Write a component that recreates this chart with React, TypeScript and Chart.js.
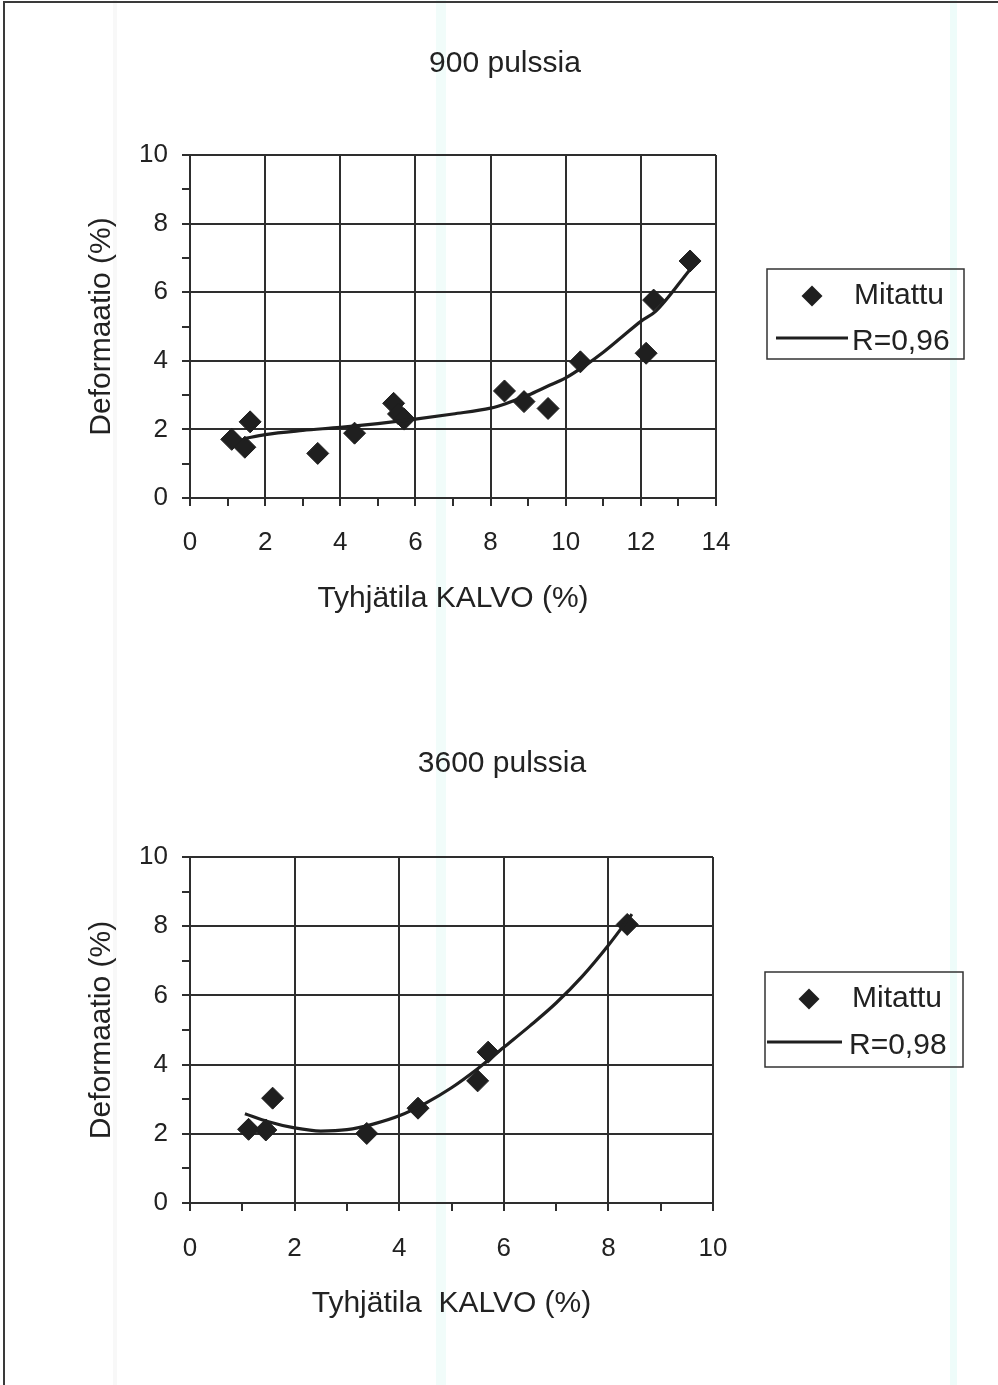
import React, { useEffect, useRef } from 'react';
import { Chart, registerables } from 'chart.js';

Chart.register(...registerables);

const FONT = "'Liberation Sans', Arial, Helvetica, sans-serif";
const INK = '#1f1f1f';
const GRID = '#2e2e2e';

// ---- Chart 1: 900 pulssia ----
const c1Title = '900 pulssia';
const c1XTitle = 'Tyhjätila KALVO (%)';
const c1YTitle = 'Deformaatio (%)';
const c1XMax = 14;
const c1MeasuredX = [1.11, 1.46, 1.6, 3.4, 4.38, 5.42, 5.55, 5.7, 8.37, 8.89, 9.53, 10.39, 12.14, 12.34, 13.31];
const c1MeasuredY = [1.71, 1.48, 2.22, 1.3, 1.89, 2.76, 2.45, 2.3, 3.12, 2.81, 2.61, 3.97, 4.22, 5.77, 6.91];
const c1TrendX = [1.44, 2, 3, 4, 5, 6, 7, 8, 8.4, 9, 9.5, 10, 10.5, 11, 11.5, 12, 12.4, 13.3];
const c1TrendY = [1.73, 1.85, 1.97, 2.06, 2.17, 2.3, 2.45, 2.62, 2.75, 3.0, 3.25, 3.5, 3.85, 4.25, 4.7, 5.15, 5.45, 6.65];
const c1Legend = ['Mitattu', 'R=0,96'];

// ---- Chart 2: 3600 pulssia ----
const c2Title = '3600 pulssia';
const c2XTitle = 'Tyhjätila  KALVO (%)';
const c2YTitle = 'Deformaatio (%)';
const c2XMax = 10;
const c2MeasuredX = [1.12, 1.45, 1.58, 3.38, 4.36, 5.5, 5.7, 8.36];
const c2MeasuredY = [2.13, 2.11, 3.03, 2.01, 2.74, 3.53, 4.36, 8.05];
const c2TrendX = [1.05, 1.5, 2.0, 2.5, 3.0, 3.5, 4.0, 4.5, 5.0, 5.5, 6.0, 6.5, 7.0, 7.5, 8.0, 8.45];
const c2TrendY = [2.58, 2.35, 2.17, 2.08, 2.12, 2.28, 2.52, 2.88, 3.33, 3.88, 4.5, 5.12, 5.78, 6.55, 7.45, 8.35];
const c2Legend = ['Mitattu', 'R=0,98'];

const yMax = 10;

const boxLegendPlugin = {
  id: 'boxLegend',
  afterDraw(chart: any, _args: any, opts: any) {
    if (!opts || !opts.labels) return;
    const ctx = chart.ctx;
    ctx.save();
    ctx.strokeStyle = '#333';
    ctx.lineWidth = 1.5;
    ctx.strokeRect(opts.left, opts.top, opts.width, opts.height);
    // diamond marker
    const dx = opts.markerX;
    const dy = opts.row1;
    const r = 10.5;
    ctx.fillStyle = INK;
    ctx.beginPath();
    ctx.moveTo(dx - r, dy);
    ctx.lineTo(dx, dy - r);
    ctx.lineTo(dx + r, dy);
    ctx.lineTo(dx, dy + r);
    ctx.closePath();
    ctx.fill();
    // line sample
    ctx.strokeStyle = INK;
    ctx.lineWidth = 3;
    ctx.beginPath();
    ctx.moveTo(opts.lineX0, opts.row2 - 4);
    ctx.lineTo(opts.lineX1, opts.row2 - 4);
    ctx.stroke();
    // texts
    ctx.fillStyle = '#222';
    ctx.font = `30px ${FONT}`;
    ctx.textBaseline = 'middle';
    ctx.textAlign = 'left';
    ctx.fillText(opts.labels[0], opts.textX, opts.row1);
    ctx.fillText(opts.labels[1], opts.textX2, opts.row2);
    ctx.restore();
  },
};

type Spec = {
  height: number;
  areaTop: number;
  areaBottom: number;
  areaRight: number;
  xAxisH: number;
  xTickPad: number;
  xMax: number;
  mx: number[];
  my: number[];
  tx: number[];
  ty: number[];
  xTitle: string;
  yTitle: string;
  legend: any;
};

function makeConfig(s: Spec): any {
  const tickFont = { family: FONT, size: 26 };
  const titleFont = { family: FONT, size: 30 };
  return {
    type: 'scatter',
    data: {
      datasets: [
        {
          label: s.legend.labels[0],
          data: s.mx.map((x, i) => ({ x, y: s.my[i] })),
          pointStyle: 'rectRot',
          pointRadius: 11,
          pointHoverRadius: 11,
          backgroundColor: INK,
          borderColor: INK,
          borderWidth: 1,
          showLine: false,
          order: 2,
        },
        {
          label: s.legend.labels[1],
          data: s.tx.map((x, i) => ({ x, y: s.ty[i] })),
          showLine: true,
          pointRadius: 0,
          pointHoverRadius: 0,
          borderColor: INK,
          borderWidth: 3.2,
          fill: false,
          cubicInterpolationMode: 'monotone',
          order: 1,
        },
      ],
    },
    options: {
      animation: false,
      responsive: false,
      maintainAspectRatio: false,
      events: [],
      layout: {
        padding: {
          left: 0,
          top: s.areaTop,
          right: 998 - s.areaRight,
          bottom: s.height - s.areaBottom - s.xAxisH,
        },
      },
      plugins: {
        legend: { display: false },
        tooltip: { enabled: false },
        title: { display: false },
        boxLegend: s.legend,
      },
      scales: {
        x: {
          type: 'linear',
          min: 0,
          max: s.xMax,
          ticks: {
            stepSize: 1,
            autoSkip: false,
            maxRotation: 0,
            padding: s.xTickPad,
            color: '#222',
            font: tickFont,
            callback: (v: number) => (Math.round(v) % 2 === 0 ? String(Math.round(v)) : ''),
          },
          grid: {
            color: (c: any) => (c.tick && Math.round(c.tick.value) % 2 === 0 ? GRID : 'rgba(0,0,0,0)'),
            tickColor: GRID,
            tickLength: 8,
            lineWidth: 2,
            drawTicks: true,
          },
          border: { color: GRID, width: 2 },
          title: {
            display: true,
            text: s.xTitle,
            color: '#222',
            font: titleFont,
            padding: { top: 0, bottom: 0 },
          },
          afterFit: (scale: any) => {
            scale.height = s.xAxisH;
          },
        },
        y: {
          type: 'linear',
          min: 0,
          max: yMax,
          ticks: {
            stepSize: 1,
            autoSkip: false,
            padding: 14,
            color: '#222',
            font: tickFont,
            callback: (v: number) => (Math.round(v) % 2 === 0 ? String(Math.round(v)) : ''),
          },
          grid: {
            color: (c: any) => (c.tick && Math.round(c.tick.value) % 2 === 0 ? GRID : 'rgba(0,0,0,0)'),
            tickColor: GRID,
            tickLength: 8,
            lineWidth: 2,
            drawTicks: true,
          },
          border: { color: GRID, width: 2 },
          title: {
            display: true,
            text: s.yTitle,
            color: '#222',
            font: titleFont,
            padding: { top: 84, bottom: 0 },
          },
          afterFit: (scale: any) => {
            scale.width = 190;
          },
        },
      },
    },
    plugins: [boxLegendPlugin],
  };
}

function Plot({ top, spec }: { top: number; spec: Spec }) {
  const ref = useRef<HTMLCanvasElement>(null);
  useEffect(() => {
    const chart = new Chart(ref.current as HTMLCanvasElement, makeConfig(spec));
    return () => chart.destroy();
  }, []);
  return (
    <canvas
      ref={ref}
      width={998}
      height={spec.height}
      style={{ position: 'absolute', left: 0, top, width: 998, height: spec.height }}
    />
  );
}

const spec1: Spec = {
  height: 700,
  areaTop: 155,
  areaBottom: 498,
  areaRight: 716,
  xAxisH: 119,
  xTickPad: 21,
  xMax: c1XMax,
  mx: c1MeasuredX,
  my: c1MeasuredY,
  tx: c1TrendX,
  ty: c1TrendY,
  xTitle: c1XTitle,
  yTitle: c1YTitle,
  legend: {
    labels: c1Legend,
    left: 767,
    top: 269,
    width: 197,
    height: 90,
    markerX: 812,
    row1: 296,
    row2: 342,
    lineX0: 776,
    lineX1: 848,
    textX: 854,
    textX2: 852,
  },
};

const spec2: Spec = {
  height: 685,
  areaTop: 157,
  areaBottom: 503,
  areaRight: 713,
  xAxisH: 119,
  xTickPad: 22,
  xMax: c2XMax,
  mx: c2MeasuredX,
  my: c2MeasuredY,
  tx: c2TrendX,
  ty: c2TrendY,
  xTitle: c2XTitle,
  yTitle: c2YTitle,
  legend: {
    labels: c2Legend,
    left: 765,
    top: 272,
    width: 198,
    height: 95,
    markerX: 809,
    row1: 299,
    row2: 346,
    lineX0: 767,
    lineX1: 842,
    textX: 852,
    textX2: 849,
  },
};

const titleStyle = (cx: number, cy: number): React.CSSProperties => ({
  position: 'absolute',
  left: cx - 200,
  top: cy - 18,
  width: 400,
  height: 36,
  lineHeight: '36px',
  textAlign: 'center',
  fontFamily: FONT,
  fontSize: 30,
  color: '#222',
  whiteSpace: 'pre',
});

export default function App() {
  return (
    <div
      style={{
        position: 'absolute',
        left: 0,
        top: 0,
        width: 998,
        height: 1385,
        background: '#fff',
        overflow: 'hidden',
      }}
    >
      {/* faint scan streaks */}
      <div style={{ position: 'absolute', left: 436, top: 0, width: 10, height: 1385, background: '#f1fcfa' }} />
      <div style={{ position: 'absolute', left: 950, top: 0, width: 7, height: 1385, background: '#eefcfa' }} />
      <div style={{ position: 'absolute', left: 113, top: 0, width: 4, height: 1385, background: '#f8f8f8' }} />
      {/* page frame */}
      <div style={{ position: 'absolute', left: 3, top: 1, width: 995, height: 2, background: '#3a3a3a' }} />
      <div style={{ position: 'absolute', left: 3, top: 1, width: 2, height: 1384, background: '#3a3a3a' }} />

      <Plot top={0} spec={spec1} />
      <Plot top={700} spec={spec2} />

      <div style={titleStyle(505, 62)}>{c1Title}</div>
      <div style={titleStyle(502, 762)}>{c2Title}</div>
    </div>
  );
}
